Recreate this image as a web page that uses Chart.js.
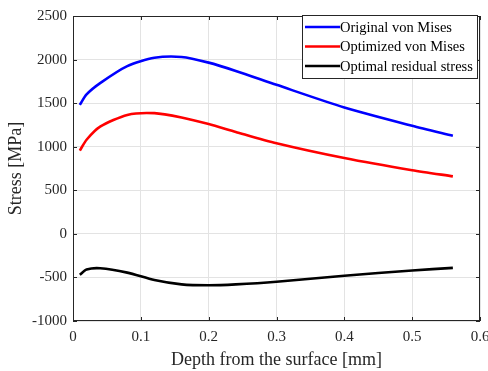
<!DOCTYPE html>
<html><head><meta charset="utf-8">
<script src="https://cdn.jsdelivr.net/npm/chart.js@4/dist/chart.umd.min.js"></script>
<style>html,body{margin:0;padding:0;background:#fff}#wrap{width:488px;height:371px}</style>
</head><body><div id="wrap"><canvas id="c" width="488" height="371"></canvas></div>
<script>
const depth = [0.01,0.02,0.04,0.08,0.12,0.16,0.2,0.24,0.3,0.4,0.5,0.56];
const originalVonMises = [1480,1600,1730,1925,2020,2030,1965,1870,1710,1450,1240,1125];
const optimizedVonMises = [955,1080,1230,1365,1385,1335,1260,1170,1040,870,730,660];
const residualStress = [-470,-410,-395,-445,-530,-580,-590,-580,-550,-480,-420,-390];
const seriesNames = ['Original von Mises','Optimized von Mises','Optimal residual stress'];
const seriesColors = ['#0000ff','#ff0000','#000000'];
const xTicks = [0,0.1,0.2,0.3,0.4,0.5,0.6];
const yTicks = [-1000,-500,0,500,1000,1500,2000,2500];
const FONT = '"Liberation Serif","Times New Roman",serif';

function pts(ys){return depth.map((x,i)=>({x:x,y:ys[i]}));}
const allSeries=[originalVonMises,optimizedVonMises,residualStress];

const frameLegend = {
  id:'frameLegend',
  afterDraw(chart){
    const {ctx, chartArea:a} = chart;
    ctx.save();
    ctx.strokeStyle='#262626'; ctx.lineWidth=1;
    ctx.strokeRect(a.left+0.5,a.top+0.5,a.right-a.left-1,a.bottom-a.top-1);
    const xs=chart.scales.x, ys=chart.scales.y;
    ctx.beginPath();
    xTicks.forEach(v=>{const px=Math.round(xs.getPixelForValue(v))+0.5;ctx.moveTo(px,a.bottom);ctx.lineTo(px,a.bottom-4);ctx.moveTo(px,a.top);ctx.lineTo(px,a.top+4);});
    yTicks.forEach(v=>{const py=Math.round(ys.getPixelForValue(v))+0.5;ctx.moveTo(a.left,py);ctx.lineTo(a.left+4,py);ctx.moveTo(a.right,py);ctx.lineTo(a.right-4,py);});
    ctx.stroke();
    const bx=302, by=15, bw=175, bh=63;
    ctx.fillStyle='#fff'; ctx.fillRect(bx,by,bw,bh);
    ctx.strokeStyle='#262626'; ctx.strokeRect(bx+0.5,by+0.5,bw,bh);
    ctx.font='14.5px '+FONT; ctx.textBaseline='middle'; ctx.fillStyle='#000';
    chart.data.datasets.forEach((d,i)=>{
      const y=by+12+i*19.5;
      ctx.strokeStyle=d.borderColor; ctx.lineWidth=2.5;
      ctx.beginPath(); ctx.moveTo(bx+3,y); ctx.lineTo(bx+38,y); ctx.stroke();
      ctx.fillText(d.label,bx+38,y+1);
    });
    ctx.restore();
  }
};

new Chart(document.getElementById('c'),{
  type:'line',
  data:{datasets:allSeries.map((s,i)=>({label:seriesNames[i],data:pts(s),borderColor:seriesColors[i],backgroundColor:seriesColors[i],borderWidth:2.6,pointRadius:0,tension:0.25,fill:false}))},
  options:{
    responsive:false,animation:false,
    layout:{padding:{left:0,right:8,top:16,bottom:0}},
    plugins:{legend:{display:false},tooltip:{enabled:false}},
    scales:{
      x:{type:'linear',min:0,max:0.6,
        afterBuildTicks(s){s.ticks=xTicks.map(v=>({value:v}));},
        afterFit(s){s.height=50;s.paddingRight=0;s.paddingLeft=0;},
        grid:{color:'#e3e3e3',drawTicks:false},border:{display:false},
        ticks:{padding:7,color:'#262626',font:{family:FONT,size:15},callback:v=>String(v)},
        title:{display:true,text:'Depth from the surface [mm]',color:'#262626',font:{family:FONT,size:18},padding:{top:0,bottom:0}}
      },
      y:{min:-1000,max:2500,
        afterBuildTicks(s){s.ticks=yTicks.map(v=>({value:v}));},
        afterFit(s){s.width=73;s.paddingTop=0;s.paddingBottom=0;},
        grid:{color:'#e3e3e3',drawTicks:false},border:{display:false},
        ticks:{padding:6,color:'#262626',font:{family:FONT,size:15},callback:v=>String(v)},
        title:{display:true,text:'Stress [MPa]',color:'#262626',font:{family:FONT,size:18},padding:{top:5,bottom:0}}
      }
    }
  },
  plugins:[frameLegend]
});
</script></body></html>
